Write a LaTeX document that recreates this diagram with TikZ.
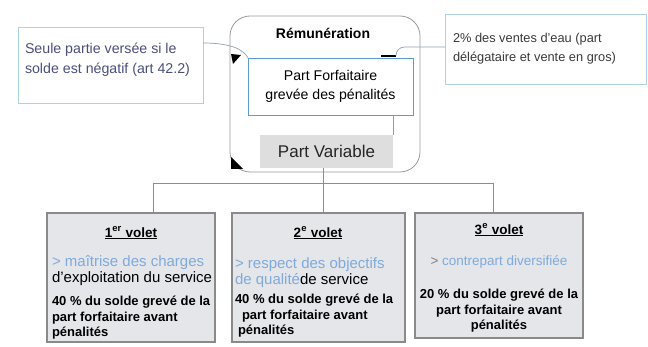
\documentclass[tikz,border=0pt]{standalone}
\usepackage{fontspec}
\setmainfont{Liberation Sans}
\definecolor{cyanL}{HTML}{A8D4E4}
\definecolor{textL}{HTML}{4B4F7E}
\definecolor{calR}{HTML}{B0D0E6}
\definecolor{textR}{HTML}{3A3A3A}
\definecolor{pfblue}{HTML}{5A9BD0}
\definecolor{pvgray}{HTML}{DEDEDE}
\definecolor{volfill}{HTML}{E4E6EA}
\definecolor{voldraw}{HTML}{8A8A8A}
\definecolor{volblue}{HTML}{7FAAD9}
\definecolor{wire}{HTML}{8A8C98}
\definecolor{connc}{HTML}{8FA4B4}
\definecolor{frame}{HTML}{9A9A9A}
\begin{document}
\begin{tikzpicture}[x=1pt,y=-1pt,
  every node/.style={inner sep=0pt, outer sep=0pt},
  calloutL/.style={draw=cyanL, line width=1pt, fill=white},
  calloutR/.style={draw=calR, line width=1pt, fill=white},
  bigbox/.style={draw=frame, line width=0.8pt, rounded corners=20pt, fill=white},
  pfbox/.style={draw=pfblue, line width=0.8pt, fill=white},
  pvbox/.style={fill=pvgray},
  volbox/.style={draw=voldraw, line width=1.3pt, fill=volfill},
  voltitle/.style={font=\bfseries\fontsize{13.5}{16}\selectfont},
  volbody/.style={font=\fontsize{15}{16.5}\selectfont, align=left},
  volbold/.style={font=\bfseries\fontsize{13}{15.5}\selectfont},
  conn/.style={draw=connc, line width=0.7pt},
  wireline/.style={draw=wire, line width=0.9pt}
]
\useasboundingbox (0,0) rectangle (648,347);
\fill[white] (0,0) rectangle (648,347);

% side callouts
\node[calloutL, minimum width=185pt, minimum height=76pt] (seule) at (110.5,65.5) {};
\node[anchor=west, align=left, text=textL, font=\fontsize{14.2}{20}\selectfont]
  (seuleT) at (25,60) {Seule partie versée si le\\solde est négatif (art 42.2)};

\node[calloutR, minimum width=201pt, minimum height=70pt] (vente) at (545.5,50) {};
\node[anchor=west, align=left, text=textR, font=\fontsize{12.8}{19}\selectfont]
  (venteT) at (453,49) {2\% des ventes d'eau (part\\délégataire et vente en gros)};

% remuneration frame
\node[bigbox, minimum width=190pt, minimum height=156pt] (remu) at (325,94) {};
\node[font=\bfseries\fontsize{14}{17}\selectfont] (remuT) at (323,33) {Rémunération};

\node[pfbox, minimum width=165pt, minimum height=57pt, align=center,
      font=\fontsize{14.1}{18.5}\selectfont] (pf) at (330.5,86.5)
  {Part Forfaitaire\\grevée des pénalités};
\node[pvbox, minimum width=133pt, minimum height=33pt, text=black!85,
      font=\fontsize{17}{19}\selectfont] (pv) at (326.5,151.5) {Part Variable};

\draw[draw=frame, line width=0.7pt] (pf.south -| pv.north east) -- (pv.north east);

% dark corner marks on the frame
\fill[black] (231,54) -- (241,55) -- (233,64) -- cycle;
\fill[black] (231,157) -- (231,169) -- (243,169) -- cycle;
\coordinate (barL) at (381,56);
\coordinate (barR) at (396,56);
\draw[black, line width=2.5pt] (barL) -- (barR);

% callout connectors
\draw[conn] ([yshift=22.5pt]seule.east) .. controls (232,43) and (244,50) .. (pf.north west);
\draw[conn] ([yshift=3pt]vente.west) -- (405,47) .. controls (399,47) and (396,51) .. (barR);

% the three parts
\node[volbox, minimum width=168pt, minimum height=129pt] (v1) at (131,277.5) {};
\node[volbox, minimum width=173pt, minimum height=129pt] (v2) at (318.5,277.5) {};
\node[volbox, minimum width=168pt, minimum height=125pt] (v3) at (499,275.5) {};

% tree
\coordinate (hub) at (323,183);
\coordinate (j1) at (153,183);
\coordinate (j3) at (493,183);
\draw[wireline] (hub |- pv.south) -- (hub);
\draw[wireline] (j1) -- (j3);
\draw[wireline] (j1) -- (j1 |- v1.north);
\draw[wireline] (hub) -- (hub |- v2.north);
\draw[wireline] (j3) -- (j3 |- v3.north);

% texts of part 1
\node[voltitle] (t1) at (131,233) {\underline{1\textsuperscript{er} volet}};
\node[volbody, anchor=west] (b1) at (52,270.5)
  {\textcolor{volblue}{> maîtrise des charges}\\d'exploitation du service};
\node[volbold, anchor=west, align=left] (c1) at (52,318)
  {40 \% du solde grevé de la\\part forfaitaire avant\\pénalités};

% texts of part 2
\node[voltitle] (t2) at (318,233) {\underline{2\textsuperscript{e} volet}};
\node[volbody, anchor=west] (b2) at (235,272.5)
  {\textcolor{volblue}{> respect des objectifs}\\\textcolor{volblue}{de qualité}de service};
\node[volbold, anchor=west, align=left] (c2) at (235,316)
  {40 \% du solde grevé de la\\\hskip7pt part forfaitaire avant\\\hskip3pt pénalités};

% texts of part 3
\node[voltitle] (t3) at (499,230) {\underline{3\textsuperscript{e} volet}};
\node[font=\fontsize{13.5}{16}\selectfont] (b3) at (499,262)
  {\textcolor{gray}{>} \textcolor{volblue}{contrepart diversifiée}};
\node[volbold, align=center] (c3) at (499,311)
  {20 \% du solde grevé de la\\part forfaitaire avant\\pénalités};
\end{tikzpicture}
\end{document}
